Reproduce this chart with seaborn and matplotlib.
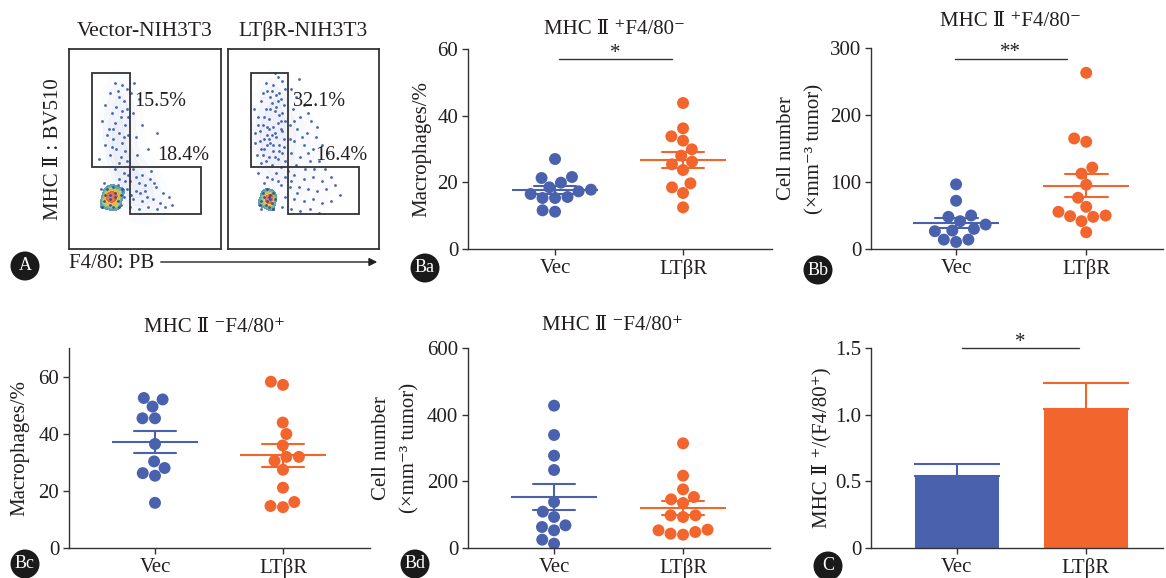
import numpy as np
import pandas as pd
import matplotlib
matplotlib.use('Agg')
import matplotlib.pyplot as plt
import seaborn as sns
from matplotlib.patches import Rectangle, Ellipse
from matplotlib.colors import LinearSegmentedColormap

sns.set_theme(style='white')
plt.rcParams['font.family'] = ['Liberation Serif', 'DejaVu Serif', 'DejaVu Sans']
plt.rcParams['axes.unicode_minus'] = False

# ---------------- data ----------------
groups = ['Vec', 'LTβR']
colors = ['#4a62ae', '#f2652d']

ba_vec = [27.0, 21.6, 21.3, 19.9, 18.5, 17.8, 17.3, 16.5, 15.6, 15.3, 15.3, 11.6, 11.2]
ba_lt = [43.8, 36.2, 33.8, 32.5, 29.9, 28.0, 26.2, 25.4, 23.7, 19.7, 18.5, 16.8, 12.5]
bb_vec = [96.5, 72, 50, 48, 41.5, 36.5, 30, 27.5, 26.5, 14, 14, 10.5]
bb_lt = [263, 165, 160, 121.5, 112.5, 96, 76.5, 63, 55.5, 50, 49, 48, 41.5, 25]
bc_vec = [52.5, 52.0, 49.5, 45.4, 45.4, 36.4, 30.3, 28.0, 26.2, 25.3, 15.8]
bc_lt = [58.2, 57.1, 43.9, 39.9, 35.9, 31.9, 31.9, 30.5, 27.4, 21.1, 16.1, 14.7, 14.3]
bd_vec = [427, 339, 277, 234, 138, 109, 93, 68, 63, 53, 25, 13]
bd_lt = [314, 217, 176, 153, 146, 135, 98, 98, 93, 55, 53, 48, 43, 40]
c_mean = [0.54, 1.04]
c_sem = [0.09, 0.195]

flow_titles = ['Vector-NIH3T3', 'LTβR-NIH3T3']
gate_upper = ['15.5%', '32.1%']
gate_lower = ['18.4%', '16.4%']

# flow cytometry events (approximate positions, 0-100 scale)
flow_vec = [
    (30,83),(35,82),(38,80),(27,78),(33,76),(36,74),(24,72),(31,71),(38,70),(28,68),(34,66),(22,64),
    (30,63),(37,62),(26,60),(33,58),(39,57),(29,55),(35,53),(24,52),(31,50),(37,49),(27,47),(34,46),
    (20,45),(38,44),(43,83),(46,75),(42,68),(48,62),(44,56),(52,50),(45,47),(58,58),(41,78),
    (30,40),(36,38),(42,40),(48,37),(33,35),(40,34),(46,33),(53,35),(38,30),(44,29),(50,29),(57,31),
    (62,28),(36,26),(42,25),(48,24),(55,25),(60,23),(66,26),(40,21),(46,20),(52,21),(58,20),(68,22),
    (44,36),(50,32),(54,39),(39,37),(32,32),(35,29),(23,33),(21,30),(34,22),(37,34),(41,27),
    (32,79),(29,60),(36,56),(25,57),(33,43),(28,51),(39,66),(35,69),(47,28),(51,26),(56,33),(63,21),
]
flow_vec_core = [(24,27),(27,25),(30,28),(27,22),(32,24),(23,24),(29,21),(34,27),(25,30),(29,31),
                 (27,27),(30,26),(35,30),(22,21),(33,21)]
flow_lt = [
    (33,86),(36,84),(30,82),(38,80),(26,79),(32,77),(35,75),(22,74),(29,73),(37,72),(25,70),(31,69),
    (34,67),(20,66),(27,65),(38,64),(23,62),(30,61),(35,60),(18,58),(26,57),(32,56),(37,55),(21,54),
    (28,53),(34,52),(24,50),(30,49),(36,48),(19,47),(27,46),(33,45),(38,44),(22,43),(29,42),(35,41),
    (25,83),(31,88),(17,70),(36,68),(28,76),(33,63),(26,61),(31,58),(23,47),(29,79),(24,66),(32,71),
    (27,55),(35,64),(21,59),(30,52),(25,44),(34,78),(23,78),(28,70),(33,74),(20,62),(29,57),(36,59),
    (22,50),(31,46),(26,52),(34,49),(18,53),(27,60),(37,51),(24,55),
    (42,80),(45,76),(50,72),(43,70),(48,66),(55,64),(41,62),(46,60),(52,58),(58,56),(44,54),(50,52),
    (56,50),(62,52),(42,48),(48,46),(54,44),(60,44),(66,48),(45,42),(51,40),(57,40),(64,40),(47,85),
    (44,64),(53,68),(49,56),(59,61),(41,55),(53,48),
    (20,38),(26,36),(32,38),(38,36),(44,37),(50,35),(56,36),(62,34),(68,36),(35,32),(41,31),(47,31),
    (53,30),(59,29),(65,30),(71,32),(38,26),(44,25),(50,24),(56,25),(62,23),(68,24),(42,20),(48,19),
    (54,20),(60,18),(74,27),(30,20),(22,20),(36,21),(33,34),(40,39),(46,28),(29,35),(24,33),(42,34),
]
flow_lt_core = [(24,26),(26,24),(28,27),(25,22),(29,23),(23,28),(27,21),(30,28),(26,30),(22,24),
                (27,26),(28,25),(31,25),(21,22),(30,20)]

# ---------------- figure ----------------
W, H = 1166, 578
fig = plt.figure(figsize=(W / 100, H / 100), dpi=100)
fig.patch.set_facecolor('white')

def rect(l, t, r, b):
    return [l / W, 1 - b / H, (r - l) / W, (b - t) / H]

def fx(x):
    return x / W

def fy(y):
    return 1 - y / H

TXT = '#231f20'
SP = '#333333'
FS = 15

hot = LinearSegmentedColormap.from_list('hot_flow', ['#3a5ab8', '#40b090', '#e8d830', '#f08020', '#d02020'])
haze = LinearSegmentedColormap.from_list('haze', ['#ffffff', '#d5ddf2'])

# ---- Panel A (flow plots) ----
flow_sets = [(flow_vec, flow_vec_core), (flow_lt, flow_lt_core)]
for i, (l, r) in enumerate([(69, 221), (228, 379)]):
    ax = fig.add_axes(rect(l, 49, r, 249))
    pts, core = flow_sets[i]
    dfp = pd.DataFrame(pts, columns=['x', 'y'])
    dfc = pd.DataFrame(core, columns=['x', 'y'])
    sns.kdeplot(data=dfp, x='x', y='y', fill=True, cmap=haze, levels=5, thresh=0.2,
                bw_adjust=1.1, alpha=0.5, ax=ax)
    sns.scatterplot(data=dfp, x='x', y='y', s=4, color='#2a48a8', linewidth=0, alpha=0.85, ax=ax)
    sns.kdeplot(data=dfc, x='x', y='y', fill=True, cmap=hot, levels=5, thresh=0.25,
                bw_adjust=1.0, alpha=0.8, ax=ax)
    sns.scatterplot(data=dfc, x='x', y='y', s=4, color='#2a48a8', linewidth=0, alpha=0.9, ax=ax)
    ax.add_patch(Rectangle((15, 41), 25, 47, fill=False, ec=SP, lw=1.3, zorder=5))
    ax.add_patch(Rectangle((40, 17.5), 47, 23.5, fill=False, ec=SP, lw=1.3, zorder=5))
    ax.text(43.0, 73.5, gate_upper[i], fontsize=14.5, color=TXT, va='center', ha='left', zorder=6)
    ax.text(58, 46.6, gate_lower[i], fontsize=14.5, color=TXT, va='center', ha='left', zorder=6)
    ax.set_xlim(0, 100)
    ax.set_ylim(0, 100)
    ax.set_xticks([])
    ax.set_yticks([])
    ax.set_xlabel('')
    ax.set_ylabel('')
    for s in ax.spines.values():
        s.set_visible(True)
        s.set_color(SP)
        s.set_linewidth(1.3)
    fig.text(fx((l + r) / 2), fy(31), flow_titles[i], ha='center', va='center', fontsize=15.5, color=TXT)

fig.text(fx(53), fy(149), 'MHC Ⅱ : BV510', rotation=90, ha='center', va='center', fontsize=FS, color=TXT)
fig.text(fx(69), fy(264), 'F4/80: PB', ha='left', va='center', fontsize=FS, color=TXT)
fig.add_artist(matplotlib.patches.FancyArrowPatch((fx(158), fy(262)), (fx(380), fy(262)),
                                                  transform=fig.transFigure, arrowstyle='-|>',
                                                  mutation_scale=12, color=TXT, lw=1.0))

# ---- helpers for dot panels ----
def style_axes(ax, xlim, ylim, yticks, yticklabels=None):
    sns.despine(ax=ax)
    ax.set_xlim(*xlim)
    ax.set_ylim(*ylim)
    ax.set_yticks(yticks)
    if yticklabels is not None:
        ax.set_yticklabels(yticklabels)
    ax.set_xticks([0, 1])
    ax.set_xticklabels(groups)
    ax.tick_params(axis='both', direction='out', length=4, width=1.0, color=SP, labelsize=FS,
                   labelcolor=TXT, left=True, bottom=True, pad=3)
    for s in ['left', 'bottom']:
        ax.spines[s].set_color(SP)
        ax.spines[s].set_linewidth(1.0)
    ax.set_xlabel('')
    ax.patch.set_alpha(0)


def dot_panel(ax, vec, lt):
    df = pd.DataFrame({'group': ['Vec'] * len(vec) + ['LTβR'] * len(lt), 'value': list(vec) + list(lt)})
    sns.swarmplot(data=df, x='group', y='value', hue='group', order=groups, hue_order=groups,
                  palette=colors, size=8.6, linewidth=0, legend=False, ax=ax, zorder=2)
    sns.pointplot(data=df, x='group', y='value', hue='group', order=groups, hue_order=groups,
                  palette=colors, errorbar='se', capsize=0.33, marker='_', markersize=62,
                  markeredgewidth=1.5, linestyle='none', err_kws={'linewidth': 1.5},
                  legend=False, ax=ax, zorder=3)


def sig(ax, x0, x1, y, ytxt, label):
    ax.plot([x0, x1], [y, y], color=SP, lw=1.0, clip_on=False)
    ax.text((x0 + x1) / 2, ytxt, label, ha='center', va='baseline', fontsize=FS, color=TXT, clip_on=False)

title_up = 'MHC Ⅱ ⁺F4/80⁻'
title_dn = 'MHC Ⅱ ⁻F4/80⁺'
lab_pct = 'Macrophages/%'
lab_num = 'Cell number\n(×mm⁻³ tumor)'

# ---- Ba ----
ax = fig.add_axes(rect(468, 49, 772, 249))
dot_panel(ax, ba_vec, ba_lt)
style_axes(ax, (-0.68, 1.695), (0, 60), [0, 20, 40, 60])
ax.set_ylabel(lab_pct, fontsize=FS, color=TXT)
ax.yaxis.set_label_coords(-0.122, 0.5)
sig(ax, 0.03, 0.91, 57.1, 57.3, '*')
fig.text(fx(615), fy(30), title_up, ha='center', va='center', fontsize=FS, color=TXT)

# ---- Bb ----
ax = fig.add_axes(rect(871, 48, 1163, 249))
dot_panel(ax, bb_vec, bb_lt)
style_axes(ax, (-0.654, 1.59), (0, 300), [0, 100, 200, 300])
ax.set_ylabel(lab_num, fontsize=FS, color=TXT, linespacing=1.7)
ax.yaxis.set_label_coords(-0.158, 0.5)
sig(ax, -0.01, 0.85, 284, 286, '**')
fig.text(fx(1010), fy(21), title_up, ha='center', va='center', fontsize=FS, color=TXT)

# ---- Bc ----
ax = fig.add_axes(rect(69, 348, 370, 548))
dot_panel(ax, bc_vec, bc_lt)
style_axes(ax, (-0.672, 1.68), (0, 70), [0, 20, 40, 60])
ax.set_ylabel(lab_pct, fontsize=FS, color=TXT)
ax.yaxis.set_label_coords(-0.13, 0.5)
fig.text(fx(215), fy(327), title_dn, ha='center', va='center', fontsize=FS, color=TXT)

# ---- Bd ----
ax = fig.add_axes(rect(468, 348, 770, 548))
dot_panel(ax, bd_vec, bd_lt)
style_axes(ax, (-0.667, 1.674), (0, 600), [0, 200, 400, 600])
ax.set_ylabel(lab_num, fontsize=FS, color=TXT, linespacing=1.7)
ax.yaxis.set_label_coords(-0.159, 0.5)
fig.text(fx(612), fy(325), title_dn, ha='center', va='center', fontsize=FS, color=TXT)

# ---- C ----
ax = fig.add_axes(rect(871, 348, 1163, 548))
sns.barplot(x=groups, y=c_mean, hue=groups, palette=colors, width=0.65, errorbar=None,
            legend=False, ax=ax, saturation=1, linewidth=0, zorder=2)
for i in range(2):
    ax.errorbar([i], [c_mean[i]], yerr=[[0], [c_sem[i]]], color=colors[i], capsize=31,
                elinewidth=1.5, capthick=1.5, fmt='none', zorder=1)
style_axes(ax, (-0.667, 1.6), (0, 1.5), [0, 0.5, 1.0, 1.5], ['0', '0.5', '1.0', '1.5'])
ax.set_ylabel('MHC Ⅱ ⁺/(F4/80⁺)', fontsize=FS, color=TXT)
ax.yaxis.set_label_coords(-0.137, 0.5)
sig(ax, 0.04, 0.95, 1.5, 1.505, '*')

# ---- circular panel labels ----
for lab, (cx, cy) in {'A': (25, 266), 'Ba': (425, 268), 'Bb': (818, 270),
                      'Bc': (25, 564), 'Bd': (415, 564), 'C': (828, 566)}.items():
    fig.add_artist(Ellipse((fx(cx), fy(cy)), 29 / W, 29 / H, transform=fig.transFigure,
                           facecolor='#1a1a1a', edgecolor='none'))
    fig.text(fx(cx), fy(cy), lab, ha='center', va='center', fontsize=13, color='white')

fig.savefig('out.png', dpi=100, facecolor='white')
